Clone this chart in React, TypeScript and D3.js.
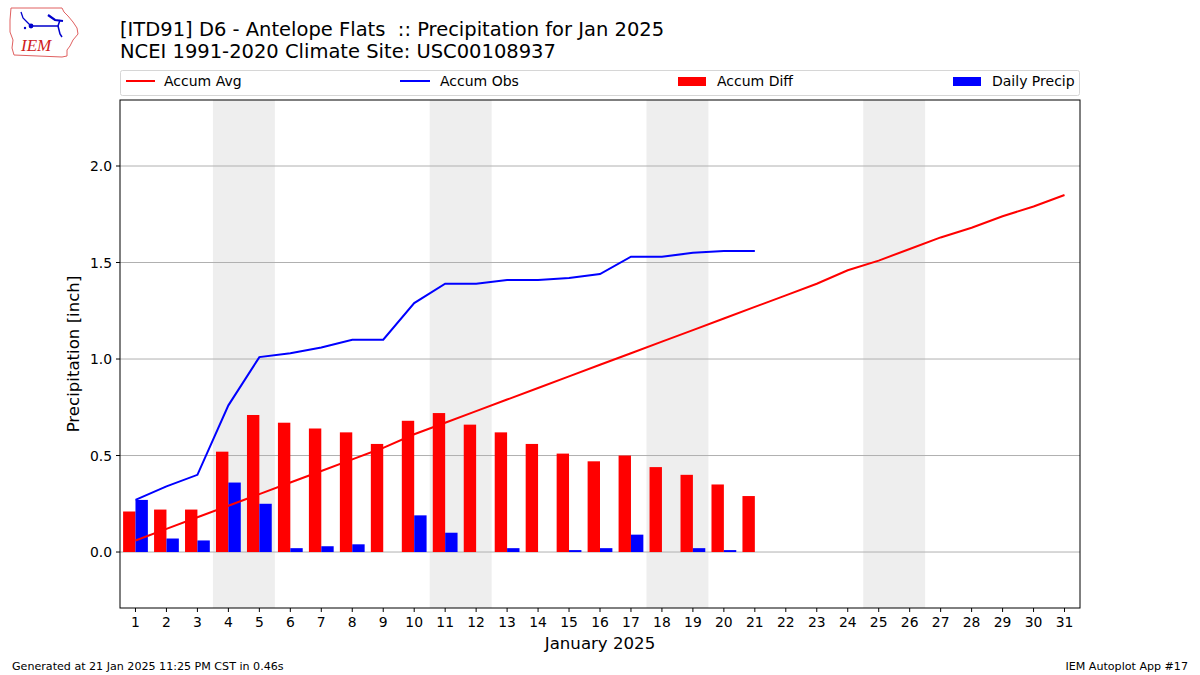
import React from "react";
import * as d3 from "d3";

const days = d3.range(1, 32);
const accumAvg = [0.06, 0.12, 0.18, 0.24, 0.30, 0.36, 0.42, 0.48, 0.54, 0.61, 0.67, 0.73, 0.79, 0.85, 0.91, 0.97, 1.03, 1.09, 1.15, 1.21, 1.27, 1.33, 1.39, 1.46, 1.51, 1.57, 1.63, 1.68, 1.74, 1.79, 1.85];
const dailyPrecip = [0.27, 0.07, 0.06, 0.36, 0.25, 0.02, 0.03, 0.04, 0.0, 0.19, 0.10, 0.0, 0.02, 0.0, 0.01, 0.02, 0.09, 0.0, 0.02, 0.01, 0.0];
const accumObs = [0.27, 0.34, 0.40, 0.76, 1.01, 1.03, 1.06, 1.10, 1.10, 1.29, 1.39, 1.39, 1.41, 1.41, 1.42, 1.44, 1.53, 1.53, 1.55, 1.56, 1.56];
const accumDiff = [0.21, 0.22, 0.22, 0.52, 0.71, 0.67, 0.64, 0.62, 0.56, 0.68, 0.72, 0.66, 0.62, 0.56, 0.51, 0.47, 0.50, 0.44, 0.40, 0.35, 0.29];
const weekendStarts = [4, 11, 18, 25];
const yTicks = [0.0, 0.5, 1.0, 1.5, 2.0];

const FONT = "DejaVu Sans, sans-serif";

export default function App() {
  const W = 1200, H = 675;
  const left = 120, right = 1080, top = 100, bottom = 608;
  const x = d3.scaleLinear().domain([0.5, 31.5]).range([left, right]);
  const y = d3.scaleLinear().domain([-0.29, 2.342]).range([bottom, top]);
  const bw = x(0.4) - x(0);

  const avgLine = d3.line<number>().x((_, i) => x(i + 1)).y((d) => y(d))(accumAvg) || "";
  const obsLine = d3.line<number>().x((_, i) => x(i + 1)).y((d) => y(d))(accumObs) || "";

  return (
    <svg width={W} height={H} style={{ display: "block", position: "absolute", left: 0, top: 0 }} fontFamily={FONT}>
      <rect x={0} y={0} width={W} height={H} fill="#fff" />
      {/* logo */}
      <g>
        <path d="M11,8 L62,8 L64,12 L68,16 L73,22 L77,28 L78,34 L73,40 L70,46 L67,50 L67,56 L62,57 L14,55 L12,48 L13,40 L10,32 L10,20 Z" fill="none" stroke="#e06060" strokeWidth={1} />
        <path d="M21,12 L23,18 L27,22 L31,26" stroke="#0000cc" strokeWidth={1.3} fill="none" />
        <circle cx={31} cy={26} r={2.4} fill="#0000cc" />
        <path d="M31,26 L58,26 L60,20" stroke="#0000cc" strokeWidth={1.5} fill="none" />
        <path d="M48,15 L55,20 L63,21" stroke="#0000cc" strokeWidth={2.2} fill="none" />
        <path d="M58,26 L60,34 L62,37" stroke="#0000cc" strokeWidth={1.5} fill="none" />
        <circle cx={25} cy={28} r={1.2} fill="#0000cc" />
        <text x={21} y={51} fontSize={17} fontStyle="italic" fontFamily="Liberation Serif, serif" fill="#d02020">IEM</text>
      </g>
      <text x={120} y={36} fontSize={19.5} fill="#000" style={{ whiteSpace: "pre" }}>{"[ITD91] D6 - Antelope Flats  :: Precipitation for Jan 2025"}</text>
      <text x={120} y={58} fontSize={19.5} fill="#000">NCEI 1991-2020 Climate Site: USC00108937</text>

      {/* legend */}
      <rect x={120.5} y={70.5} width={959} height={25} rx={2} fill="#fff" stroke="#d6d6d6" />
      <line x1={126} x2={155} y1={81} y2={81} stroke="#ff0000" strokeWidth={2} />
      <text x={164} y={86} fontSize={14}>Accum Avg</text>
      <line x1={400} x2={430} y1={81} y2={81} stroke="#0000ff" strokeWidth={2} />
      <text x={440} y={86} fontSize={14}>Accum Obs</text>
      <rect x={678} y={77} width={28} height={9} fill="#ff0000" />
      <text x={717} y={86} fontSize={14}>Accum Diff</text>
      <rect x={953} y={77} width={28} height={9} fill="#0000ff" />
      <text x={992} y={86} fontSize={14}>Daily Precip</text>

      {/* weekend shading */}
      {weekendStarts.map((d) => (
        <rect key={d} x={x(d - 0.5)} y={top} width={x(d + 1.5) - x(d - 0.5)} height={bottom - top} fill="#eeeeee" />
      ))}
      {/* grid */}
      {yTicks.map((t) => (
        <line key={t} x1={left} x2={right} y1={y(t)} y2={y(t)} stroke="#b0b0b0" strokeWidth={1} />
      ))}
      {/* bars */}
      {accumDiff.map((v, i) => (
        <rect key={"d" + i} x={x(i + 1) - bw} y={Math.min(y(v), y(0))} width={bw} height={Math.abs(y(v) - y(0))} fill="#ff0000" />
      ))}
      {dailyPrecip.map((v, i) => (
        <rect key={"p" + i} x={x(i + 1)} y={y(v)} width={bw} height={y(0) - y(v)} fill="#0000ff" />
      ))}
      <path d={avgLine} fill="none" stroke="#ff0000" strokeWidth={2} />
      <path d={obsLine} fill="none" stroke="#0000ff" strokeWidth={2} />

      {/* axes frame */}
      <rect x={left} y={top} width={right - left} height={bottom - top} fill="none" stroke="#000" strokeWidth={1} />
      {yTicks.map((t) => (
        <g key={"yt" + t}>
          <line x1={left - 4} x2={left} y1={y(t)} y2={y(t)} stroke="#000" />
          <text x={left - 8} y={y(t) + 5} fontSize={13.9} textAnchor="end">{t.toFixed(1)}</text>
        </g>
      ))}
      {days.map((d) => (
        <g key={"xt" + d}>
          <line x1={x(d)} x2={x(d)} y1={bottom} y2={bottom + 4} stroke="#000" />
          <text x={x(d)} y={bottom + 19} fontSize={13.9} textAnchor="middle">{d}</text>
        </g>
      ))}
      <text x={(left + right) / 2} y={649} fontSize={16.6} textAnchor="middle">January 2025</text>
      <text transform={`translate(79,354) rotate(-90)`} fontSize={16.6} textAnchor="middle">Precipitation [inch]</text>

      <text x={12} y={670} fontSize={11.1}>Generated at 21 Jan 2025 11:25 PM CST in 0.46s</text>
      <text x={1188} y={670} fontSize={11.1} textAnchor="end">IEM Autoplot App #17</text>
    </svg>
  );
}
